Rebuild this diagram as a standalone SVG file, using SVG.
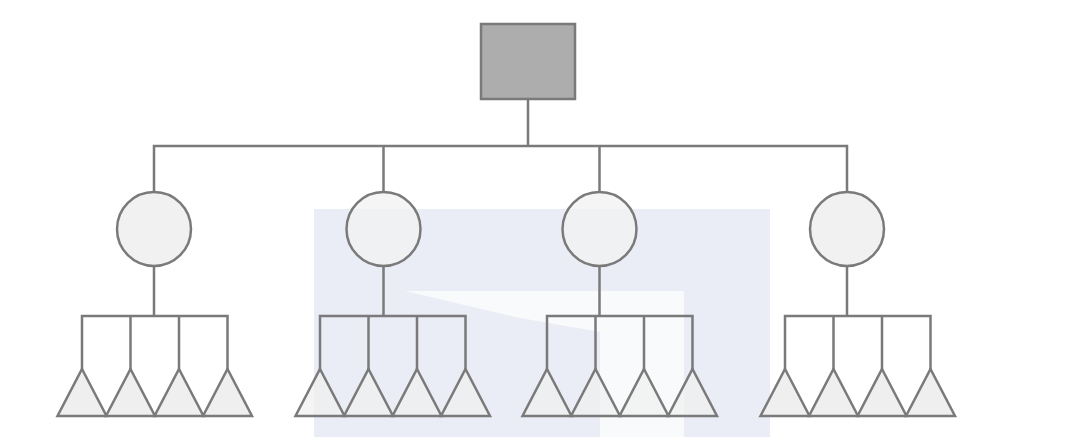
<svg xmlns="http://www.w3.org/2000/svg" width="1080" height="437" viewBox="0 0 1080 437">
<style>
.ln{stroke:#7a7a7a;stroke-width:2.5;fill:none;stroke-linecap:square}
.c{fill:#f1f1f1;stroke:#7a7a7a;stroke-width:2.5}
.t{fill:#efefef;stroke:#7a7a7a;stroke-width:2.5;stroke-linejoin:miter}
</style>
<defs>
<polygon id="tri" points="0,0 24.5,47 -24.5,47"/>
</defs>
<rect width="1080" height="437" fill="#ffffff"/>
<g id="watermark">
<rect x="314" y="209" width="456" height="228" fill="#ebedf6"/>
<polygon points="405,291 684,291 684,437 600,437 600,332 520,318" fill="#ffffff" opacity="0.7"/>
</g>
<g id="connectors">
<path class="ln" d="M528,99 V146 M154,146 H847 M154,146 V192 M383.5,146 V192 M599.5,146 V192 M847,146 V192"/>
<path class="ln" d="M154,266 V316 M82,316 H227.5 M82,316 V369 M130.5,316 V369 M179,316 V369 M227.5,316 V369"/>
<path class="ln" d="M383.5,266 V316 M320,316 H465.5 M320,316 V369 M368.5,316 V369 M417,316 V369 M465.5,316 V369"/>
<path class="ln" d="M599.5,266 V316 M547,316 H692.5 M547,316 V369 M595.5,316 V369 M644,316 V369 M692.5,316 V369"/>
<path class="ln" d="M847,266 V316 M785,316 H930.5 M785,316 V369 M833.5,316 V369 M882,316 V369 M930.5,316 V369"/>
</g>
<g id="root"><rect x="481" y="24" width="94" height="75" fill="#adadad" stroke="#7a7a7a" stroke-width="2.5"/></g>
<g id="c1"><circle class="c" cx="154" cy="229" r="37"/></g>
<g id="c2"><circle class="c" cx="383.5" cy="229" r="37" fill-opacity="0.75"/></g>
<g id="c3"><circle class="c" cx="599.5" cy="229" r="37" fill-opacity="0.75"/></g>
<g id="c4"><circle class="c" cx="847" cy="229" r="37"/></g>
<g id="t1">
<use href="#tri" class="t" x="82" y="369"/><use href="#tri" class="t" x="130.5" y="369"/><use href="#tri" class="t" x="179" y="369"/><use href="#tri" class="t" x="227.5" y="369"/>
</g>
<g id="t2">
<use href="#tri" class="t" x="320" y="369" fill-opacity="0.7"/><use href="#tri" class="t" x="368.5" y="369" fill-opacity="0.7"/><use href="#tri" class="t" x="417" y="369" fill-opacity="0.7"/><use href="#tri" class="t" x="465.5" y="369" fill-opacity="0.7"/>
</g>
<g id="t3">
<use href="#tri" class="t" x="547" y="369" fill-opacity="0.7"/><use href="#tri" class="t" x="595.5" y="369" fill-opacity="0.7"/><use href="#tri" class="t" x="644" y="369" fill-opacity="0.7"/><use href="#tri" class="t" x="692.5" y="369" fill-opacity="0.7"/>
</g>
<g id="t4">
<use href="#tri" class="t" x="785" y="369"/><use href="#tri" class="t" x="833.5" y="369"/><use href="#tri" class="t" x="882" y="369"/><use href="#tri" class="t" x="930.5" y="369"/>
</g>
</svg>
